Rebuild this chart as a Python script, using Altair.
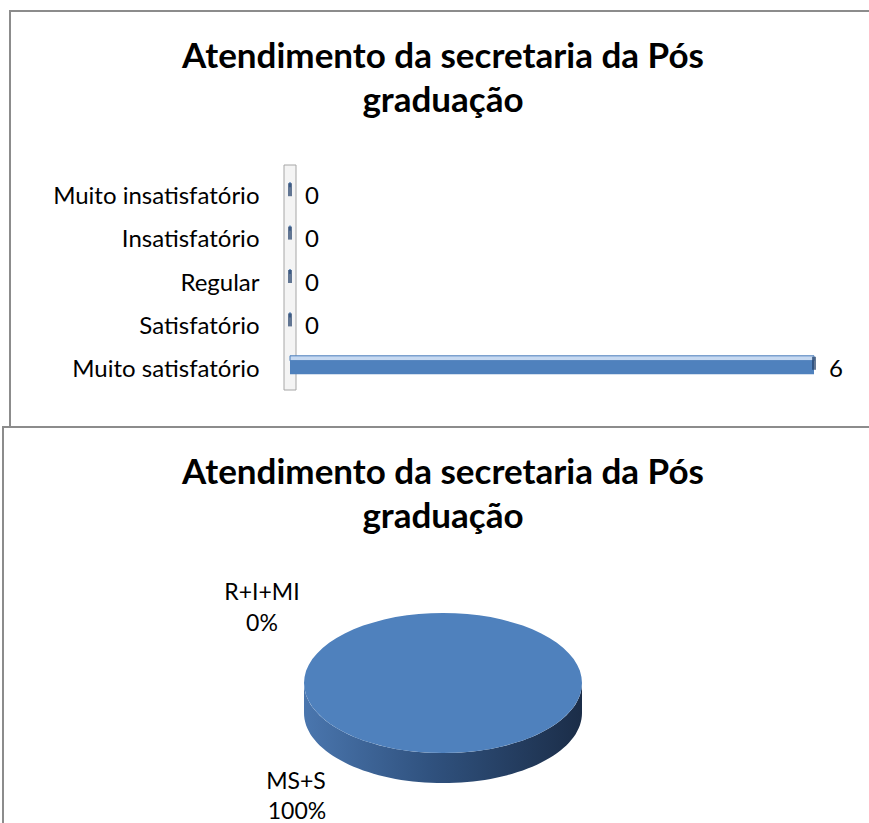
import altair as alt
import pandas as pd

# ---------------- data ----------------
TITLE_LINES = ["Atendimento da secretaria da Pós", "graduação"]
CATEGORIES = ["Muito insatisfatório", "Insatisfatório", "Regular", "Satisfatório", "Muito satisfatório"]
COUNTS = [0, 0, 0, 0, 6]
PIE_GROUPS = ["MS+S", "R+I+MI"]
PIE_COUNTS = [6, 0]

FONT = "Lato"
BLUE = "#4F81BD"
TITLE_SIZE = 35
AXIS_LABEL_SIZE = 24
LABEL_SIZE = 23

bars = pd.DataFrame({"category": CATEGORIES, "value": COUNTS})
pie = pd.DataFrame({"group": PIE_GROUPS, "value": PIE_COUNTS})
total = sum(PIE_COUNTS)
pie["share"] = pie["value"] / total
pie["f1"] = pie["value"].cumsum() / total
pie["f0"] = pie["f1"] - pie["share"]
title_df = pd.DataFrame({"t": ["\n".join(TITLE_LINES)]})

# ---------------- geometry of the 3-D pie (expressions evaluated by Vega) ----------------
N = 72
RY = 0.504     # ellipse height / width
DEPTH = 0.216  # side depth relative to radius


def rnd(e):
    return f"round(({e})*1000)/1000"


def top_path_expr():
    parts = ["'M0,0'"]
    for i in range(N + 1):
        a = f"(2*PI*(datum.f0 + (datum.f1 - datum.f0)*{i / N:.5f}) - PI/2)"
        parts.append(f"' L' + {rnd(f'cos({a})')} + ',' + {rnd(f'{RY}*sin({a})')}")
    parts.append("' Z'")
    return " + ".join(parts)


def side_path_expr():
    parts = []
    for i in range(N + 1):
        a = f"(datum.ts + (datum.te - datum.ts)*{i / N:.5f})"
        cmd = "M" if i == 0 else " L"
        parts.append(f"'{cmd}' + {rnd(f'cos({a})')} + ',' + {rnd(f'{RY}*sin({a})')}")
    for i in range(N, -1, -1):
        a = f"(datum.ts + (datum.te - datum.ts)*{i / N:.5f})"
        parts.append(f"' L' + {rnd(f'cos({a})')} + ',' + {rnd(f'{RY}*sin({a}) + {DEPTH}')}")
    parts.append("' Z'")
    return " + ".join(parts)


one = pd.DataFrame({"k": [0]})

# ---------------- panel frames ----------------
frame_top = alt.Chart(one).mark_rect(fill="white", stroke="#8C8C8C", strokeWidth=2).encode(
    x=alt.value(10), x2=alt.value(900), y=alt.value(11), y2=alt.value(900))
frame_bottom = alt.Chart(one).mark_rect(fill="white", stroke="#8C8C8C", strokeWidth=2).encode(
    x=alt.value(3), x2=alt.value(900), y=alt.value(427), y2=alt.value(900))

# ---------------- titles ----------------
title_style = dict(font=FONT, fontSize=TITLE_SIZE, fontWeight="bold", color="black",
                   align="center", baseline="middle", lineBreak="\n", lineHeight=44)
title_top = alt.Chart(title_df).mark_text(**title_style).encode(
    text="t:N", x=alt.value(443), y=alt.value(57))
title_bottom = alt.Chart(title_df).mark_text(**title_style).encode(
    text="t:N", x=alt.value(443), y=alt.value(473))

# ---------------- bar chart ----------------
xs = alt.Scale(domain=[0, 6], range=[290, 814])
ys = alt.Scale(domain=CATEGORIES, range=[175, 392], paddingInner=0, paddingOuter=0)
Y = alt.Y("category:N", scale=ys, title=None, sort=CATEGORIES,
          axis=alt.Axis(orient="left", offset=-259, ticks=False, domain=False, grid=False,
                        labelPadding=0, labelFont=FONT, labelFontSize=AXIS_LABEL_SIZE,
                        labelColor="black", labelLimit=400, zindex=1))
X = alt.X("value:Q", scale=xs, axis=None)

wall = alt.Chart(one).mark_rect(fill="#F4F4F4", stroke="#A6A6A6", strokeWidth=1).encode(
    x=alt.value(284), x2=alt.value(296), y=alt.value(165), y2=alt.value(390))

bar_front = alt.Chart(bars).mark_bar(color=BLUE, size=14, yOffset=-3).encode(
    x=X, x2=alt.datum(0), y=Y)
bar_top = alt.Chart(bars).mark_bar(fill="#C6D9F1", stroke="#4A7EBB", strokeWidth=1,
                                   size=5, yOffset=-12).encode(
    x=X, x2=alt.datum(0), y=Y)
bar_end = alt.Chart(bars).mark_tick(color="#23406A", orient="vertical", size=13,
                                    thickness=4, yOffset=-7).encode(x=X, y=Y)
bar_labels = alt.Chart(bars).mark_text(font=FONT, fontSize=AXIS_LABEL_SIZE, color="black",
                                       align="left", baseline="middle", dx=15).encode(
    x=X, y=Y, text=alt.Text("value:Q", format="d"))

# ---------------- pie ----------------
PIE_X, PIE_Y, PIE_SIZE = 443, 683, 278 ** 2

pie_base = alt.Chart(pie)
pie_side = pie_base.transform_calculate(
    ts="max(2*PI*datum.f0 - PI/2, 0)",
    te="min(2*PI*datum.f1 - PI/2, PI)",
).transform_filter("datum.te > datum.ts").transform_calculate(
    sidepath=side_path_expr()
).mark_point(
    filled=True, opacity=1, strokeWidth=0,
    fill={"gradient": "linear", "x1": 0, "y1": 0, "x2": 1, "y2": 0,
          "stops": [{"offset": 0, "color": "#4A76AE"},
                    {"offset": 0.45, "color": "#30527F"},
                    {"offset": 1, "color": "#1B2D48"}]},
).encode(
    x=alt.value(PIE_X), y=alt.value(PIE_Y), size=alt.value(PIE_SIZE),
    shape=alt.Shape("sidepath:N", scale=None))

pie_top = pie_base.transform_filter("datum.value > 0").transform_calculate(
    toppath=top_path_expr()
).mark_point(filled=True, opacity=1, strokeWidth=0, fill=BLUE).encode(
    x=alt.value(PIE_X), y=alt.value(PIE_Y), size=alt.value(PIE_SIZE),
    shape=alt.Shape("toppath:N", scale=None))

lab_style = dict(font=FONT, fontSize=LABEL_SIZE, color="black", align="center", baseline="middle")
lab_small_name = pie_base.transform_filter("datum.group == 'R+I+MI'").mark_text(**lab_style).encode(
    text="group:N", x=alt.value(262), y=alt.value(593))
lab_small_pct = pie_base.transform_filter("datum.group == 'R+I+MI'").mark_text(**lab_style).encode(
    text=alt.Text("share:Q", format=".0%"), x=alt.value(262), y=alt.value(624))
lab_big_name = pie_base.transform_filter("datum.group == 'MS+S'").mark_text(**lab_style).encode(
    text="group:N", x=alt.value(296), y=alt.value(782))
lab_big_pct = pie_base.transform_filter("datum.group == 'MS+S'").mark_text(**lab_style).encode(
    text=alt.Text("share:Q", format=".0%"), x=alt.value(297), y=alt.value(812))

chart = alt.layer(
    frame_top, title_top, wall, bar_top, bar_front, bar_end, bar_labels,
    frame_bottom, title_bottom, pie_side, pie_top,
    lab_small_name, lab_small_pct, lab_big_name, lab_big_pct,
).resolve_scale(shape="independent").properties(
    width=869, height=823, padding=0,
    autosize=alt.AutoSizeParams(type="none"),
    background="white",
).configure_view(strokeWidth=0)

chart.save("out.html", embed_options={"renderer": "svg", "actions": False})
